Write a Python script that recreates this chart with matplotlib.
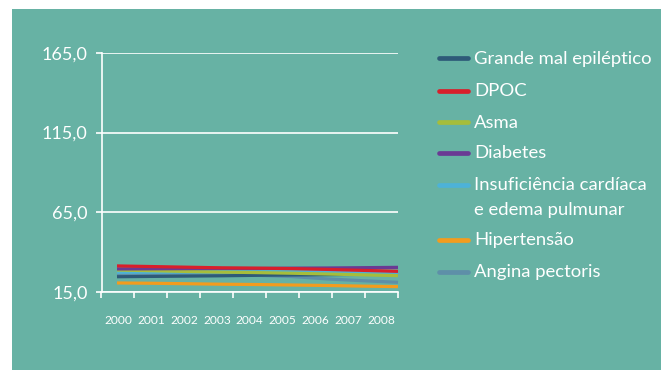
import matplotlib
matplotlib.use("Agg")
import matplotlib.pyplot as plt
from matplotlib.patches import Rectangle
from matplotlib.lines import Line2D
import numpy as np

plt.rcParams['font.family'] = ['Lato', 'DejaVu Sans']

years = [2000, 2001, 2002, 2003, 2004, 2005, 2006, 2007, 2008]
year_labels = [str(y) for y in years]

grande_mal = [24.4, 24.6, 24.8, 25.0, 25.3, 25.5, 25.7, 25.9, 26.1]
dpoc = [31.2, 30.8, 30.4, 30.0, 29.8, 29.5, 29.0, 28.4, 27.8]
asma = [28.6, 28.2, 27.7, 27.3, 27.0, 26.6, 26.1, 25.6, 25.1]
diabetes = [29.3, 29.4, 29.5, 29.6, 29.6, 29.8, 29.9, 30.1, 30.3]
insuficiencia = [27.2, 27.3, 27.4, 27.5, 27.4, 27.3, 27.1, 27.0, 26.8]
hipertensao = [20.5, 20.3, 20.0, 19.7, 19.5, 19.2, 18.9, 18.5, 18.2]
angina = [25.8, 25.7, 25.6, 25.5, 25.3, 24.5, 23.0, 21.9, 20.9]

series_names = ["Grande mal epiléptico", "DPOC", "Asma", "Diabetes",
                "Insuficiência cardíaca", "Hipertensão", "Angina pectoris"]
extra_line = {4: "e edema pulmunar"}
series_values = [grande_mal, dpoc, asma, diabetes, insuficiencia, hipertensao, angina]
series_colors = ["#2E5A78", "#D81F2B", "#A6BD3B", "#6A3A94", "#4DB2D8", "#F39C1E", "#5E8FA8"]

y_ticks = [15, 65, 115, 165]
y_tick_labels = ["15,0", "65,0", "115,0", "165,0"]

BG = "#67B2A4"
W, H = 661, 370
fig = plt.figure(figsize=(W / 100, H / 100), dpi=100)
fig.patch.set_facecolor("white")
fig.patches.append(Rectangle((12 / W, 0), 1 - 12 / W, 1 - 9 / H, transform=fig.transFigure,
                             facecolor=BG, edgecolor="none", zorder=-10))

ax = fig.add_axes([101.5 / W, 1 - 291.7 / H, (398 - 101.5) / W, (291.7 - 53) / H])
ax.set_facecolor("none")
ax.set_zorder(5)

draw_order = [6, 0, 5, 4, 2, 3, 1]
for i in draw_order:
    ax.plot(years, series_values[i], color=series_colors[i], lw=2.3,
            solid_capstyle="butt", zorder=3, clip_on=False)

x0 = years[0] - 15.5 / 35.125
ax.set_xlim(x0, years[-1])
ax.set_ylim(y_ticks[0], y_ticks[-1])

bounds = np.linspace(x0, years[-1], len(years) + 1)
ax.set_xticks(bounds)
ax.set_xticklabels([])
ax.set_xticks((bounds[:-1] + bounds[1:]) / 2, minor=True)
ax.set_xticklabels(year_labels, minor=True)
ax.tick_params(axis="x", which="major", length=4, width=1.2, color="white", direction="out")
ax.tick_params(axis="x", which="minor", length=0, pad=17, labelsize=8.6, labelcolor="white")

ax.set_yticks(y_ticks)
ax.set_yticklabels(y_tick_labels)
ax.tick_params(axis="y", length=4, width=1.2, color="white", labelsize=13,
               labelcolor="white", pad=6)

for s in ["top", "right"]:
    ax.spines[s].set_visible(False)
for s in ["left", "bottom"]:
    ax.spines[s].set_color("white")
    ax.spines[s].set_linewidth(1.2)
ax.grid(axis="y", color="white", lw=1.2, zorder=1)
ax.set_axisbelow(True)

# manual legend
leg_y = [58.3, 90.7, 122, 153, 185, 239.7, 271.7]
for k, (name, col, yy) in enumerate(zip(series_names, series_colors, leg_y)):
    fig.add_artist(Line2D([439 / W, 468 / W], [1 - yy / H, 1 - yy / H], color=col, lw=3.4,
                          solid_capstyle="round", transform=fig.transFigure))
    fig.text(474 / W, 1 - (yy + 0.5) / H, name, color="white", fontsize=13.3,
             va="center", ha="left", transform=fig.transFigure)
    if k in extra_line:
        fig.text(474 / W, 1 - (yy + 25.5) / H, extra_line[k], color="white", fontsize=13.3,
                 va="center", ha="left", transform=fig.transFigure)

fig.savefig("out.png", dpi=100, facecolor=fig.get_facecolor())
